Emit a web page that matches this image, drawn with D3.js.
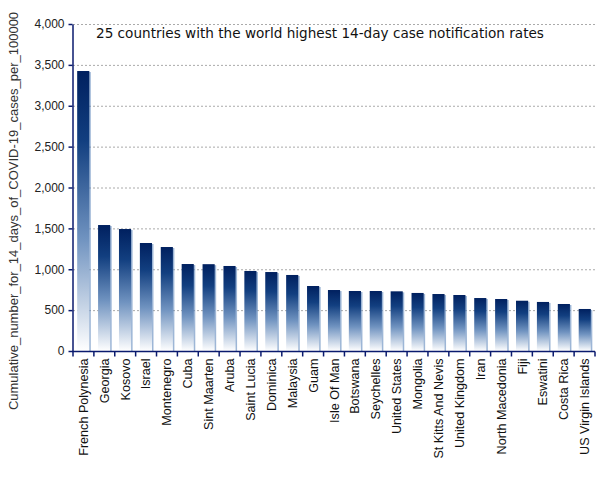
<!DOCTYPE html>
<html>
<head>
<meta charset="utf-8">
<script src="https://cdn.jsdelivr.net/npm/d3@7"></script>
<style>
  body { margin: 0; background: #fff; }
  text { font-family: "Liberation Sans", Arial, sans-serif; }
  .title { font-family: "DejaVu Sans", sans-serif; }
</style>
</head>
<body>
<div id="chart"></div>
<script>
const countries = ["French Polynesia", "Georgia", "Kosovo", "Israel", "Montenegro", "Cuba",
    "Sint Maarten", "Aruba", "Saint Lucia", "Dominica", "Malaysia", "Guam", "Isle Of Man",
    "Botswana", "Seychelles", "United States", "Mongolia", "St Kitts And Nevis",
    "United Kingdom", "Iran", "North Macedonia", "Fiji", "Eswatini", "Costa Rica",
    "US Virgin Islands"]
const rates = [3425, 1541, 1492, 1321, 1272, 1064, 1062, 1040, 979, 966, 930, 795, 746,
    734, 734, 730, 710, 697, 685, 648, 636, 615, 600, 575, 514]
const yTicks = [0, 500, 1000, 1500, 2000, 2500, 3000, 3500, 4000]
const title = "25 countries with the world highest 14-day case notification rates"
const yLabel = "Cumulative_number_for_14_days_of_COVID-19_cases_per_100000"

const width = 605
const height = 480
const margin = {top: 24, right: 10, bottom: 129, left: 73}
const navy = "#0a1a6e"

const svg = d3.select("#chart").append("svg")
    .attr("width", width)
    .attr("height", height)

// gradient of the bars, dark on top, white at the bottom
const grad = svg.append("defs").append("linearGradient")
    .attr("id", "barfill")
    .attr("x1", 0).attr("y1", 0).attr("x2", 0).attr("y2", 1)
grad.append("stop").attr("offset", "0%").attr("stop-color", "#00205f")
grad.append("stop").attr("offset", "25%").attr("stop-color", "#123f80")
grad.append("stop").attr("offset", "60%").attr("stop-color", "#7093c0")
grad.append("stop").attr("offset", "100%").attr("stop-color", "#ffffff")

const x = d3.scaleBand()
    .domain(countries)
    .range([margin.left, width - margin.right])
    .paddingInner(0.42)
    .paddingOuter(0.2)

const y = d3.scaleLinear()
    .domain([0, 4000])
    .range([height - margin.bottom, margin.top])

// grid lines
svg.append("g")
    .selectAll("line")
    .data(yTicks.slice(1))
    .join("line")
    .attr("x1", margin.left)
    .attr("x2", width - margin.right)
    .attr("y1", d => y(d) + 0.5)
    .attr("y2", d => y(d) + 0.5)
    .attr("stroke", "#aaa")
    .attr("stroke-dasharray", "2,2")

// bars with a light edge on the right
const bars = svg.append("g")
bars.selectAll(".edge")
    .data(countries)
    .join("rect")
    .attr("class", "edge")
    .attr("x", d => x(d) + 1.5)
    .attr("y", (d, i) => y(rates[i]) + 1)
    .attr("width", x.bandwidth())
    .attr("height", (d, i) => y(0) - y(rates[i]) - 1)
    .attr("fill", "#5b86bb")
    .attr("opacity", 0.6)
bars.selectAll(".bar")
    .data(countries)
    .join("rect")
    .attr("class", "bar")
    .attr("x", d => x(d))
    .attr("y", (d, i) => y(rates[i]))
    .attr("width", x.bandwidth())
    .attr("height", (d, i) => y(0) - y(rates[i]))
    .attr("fill", "url(#barfill)")

// y axis
const yAxis = svg.append("g")
    .attr("transform", `translate(${margin.left - 0.5},0)`)
    .call(d3.axisLeft(y).tickValues(yTicks).tickFormat(d3.format(",")).tickSize(4).tickSizeOuter(0))
yAxis.selectAll("path, line").attr("stroke", navy).attr("stroke-width", 1.5)
yAxis.selectAll("text").attr("font-size", 12).attr("fill", "#222").attr("dx", -1)

// x axis, ticks between the categories
const xAxis = svg.append("g")
    .attr("transform", `translate(0,${y(0) + 0.5})`)
xAxis.append("line")
    .attr("x1", margin.left - 1)
    .attr("x2", width - margin.right)
    .attr("stroke", navy)
    .attr("stroke-width", 1.5)
const slot = (width - margin.right - margin.left) / countries.length
xAxis.selectAll(".tk")
    .data(d3.range(countries.length + 1))
    .join("line")
    .attr("class", "tk")
    .attr("x1", i => margin.left + i * slot)
    .attr("x2", i => margin.left + i * slot)
    .attr("y1", 0)
    .attr("y2", 5)
    .attr("stroke", navy)
    .attr("stroke-width", 1.5)
xAxis.selectAll(".lbl")
    .data(countries)
    .join("text")
    .attr("class", "lbl")
    .attr("transform", d => `translate(${x(d) + x.bandwidth() / 2 + 4.5},7) rotate(-90)`)
    .attr("text-anchor", "end")
    .attr("font-size", 12.6)
    .attr("fill", "#111")
    .text(d => d)

svg.append("text")
    .attr("transform", `translate(18,211) rotate(-90)`)
    .attr("text-anchor", "middle")
    .attr("font-size", 13)
    .attr("fill", "#333")
    .text(yLabel)

svg.append("text")
    .attr("class", "title")
    .attr("x", 96)
    .attr("y", 38)
    .attr("font-size", 13.6)
    .attr("fill", "#111")
    .text(title)
</script>
</body>
</html>
